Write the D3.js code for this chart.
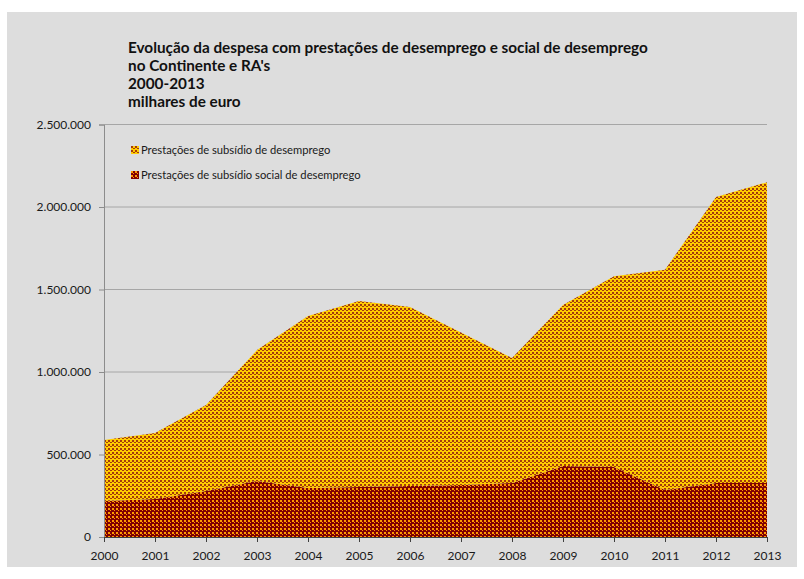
<!DOCTYPE html>
<html>
<head>
<meta charset="utf-8">
<script src="https://cdn.jsdelivr.net/npm/d3@7"></script>
<style>
  html, body { margin: 0; padding: 0; background: #ffffff; }
  svg { display: block; }
</style>
</head>
<body>
<svg id="chart" width="804" height="579"></svg>
<script>
// Anos
const years = [2000, 2001, 2002, 2003, 2004, 2005, 2006, 2007, 2008, 2009, 2010, 2011, 2012, 2013];
// Prestações de subsídio social de desemprego (milhares de euro)
const socialValues = [218000, 230000, 279000, 340000, 297000, 303000, 309000, 315000, 327000, 430000, 424000, 285000, 327000, 327000];
// Prestações de subsídio de desemprego (milhares de euro)
const subsidyValues = [370000, 400000, 521000, 793000, 1043000, 1127000, 1085000, 925000, 758000, 976000, 1156000, 1335000, 1733000, 1823000];
const yTicks = [0, 500000, 1000000, 1500000, 2000000, 2500000];
const titleLines = [
  "Evolução da despesa com prestações de desemprego e social de desemprego",
  "no Continente e RA's",
  "2000-2013",
  "milhares de euro"
];
const seriesNames = ["Prestações de subsídio de desemprego", "Prestações de subsídio social de desemprego"];

const svg = d3.select("#chart");
const plot = { left: 104, right: 767, top: 124.5, bottom: 537 };
const FONT = "Lato, 'Open Sans', sans-serif";

// fundo do gráfico
svg.append("rect").attr("x", 7).attr("y", 12).attr("width", 790).attr("height", 555).attr("fill", "#dddddd");

// padrões de preenchimento (xadrez)
const defs = svg.append("defs");
function checker(id, bg, fg, w2) {
  const p = defs.append("pattern").attr("id", id).attr("patternUnits", "userSpaceOnUse")
    .attr("width", 4).attr("height", 4);
  p.append("rect").attr("width", 4).attr("height", 4).attr("fill", bg);
  p.append("rect").attr("x", 0).attr("y", 0).attr("width", 2).attr("height", 2).attr("fill", fg);
  p.append("rect").attr("x", 2).attr("y", 2).attr("width", w2).attr("height", 1).attr("fill", fg);
}
checker("patSubsidy", "#ffcc00", "#a33a0c", 2);
checker("patSocial", "#800000", "#ff9900", 1);

const x = d3.scaleLinear().domain([years[0], years[years.length - 1]]).range([plot.left, plot.right]);
const y = d3.scaleLinear().domain([0, 2500000]).range([plot.bottom, plot.top]);

// linhas de grelha
svg.append("g").selectAll("line").data(yTicks.filter(d => d > 0)).join("line")
  .attr("x1", plot.left).attr("x2", plot.right)
  .attr("y1", d => y(d)).attr("y2", d => y(d))
  .attr("stroke", "#a6a6a6").attr("stroke-width", 1);

// áreas empilhadas
const data = years.map((yr, i) => ({ year: yr, social: socialValues[i], subsidy: subsidyValues[i] }));
const series = d3.stack().keys(["social", "subsidy"])(data);
const area = d3.area()
  .x(d => x(d.data.year))
  .y0(d => y(d[0]))
  .y1(d => y(d[1]));
const fills = { social: "url(#patSocial)", subsidy: "url(#patSubsidy)" };
svg.append("g").selectAll("path").data(series).join("path")
  .attr("d", area)
  .attr("fill", d => fills[d.key]);

// eixo vertical
const yAxis = d3.axisLeft(y).tickValues(yTicks).tickSize(5).tickPadding(8)
  .tickFormat(d => d3.format(",")(d).replace(/,/g, "."));
const gy = svg.append("g").attr("transform", `translate(${plot.left},0)`).call(yAxis);
gy.select(".domain").attr("stroke", "#8c8c8c");
gy.selectAll(".tick line").attr("stroke", "#8c8c8c");
gy.selectAll("text").attr("font-family", FONT).attr("font-size", 12).attr("fill", "#1a1a1a");

// eixo horizontal
const xAxis = d3.axisBottom(x).tickValues(years).tickSize(5).tickPadding(9).tickFormat(d3.format("d"));
const gx = svg.append("g").attr("transform", `translate(0,${plot.bottom})`).call(xAxis);
gx.select(".domain").attr("stroke", "#404040");
gx.selectAll(".tick line").attr("stroke", "#404040");
gx.selectAll("text").attr("font-family", FONT).attr("font-size", 12).attr("fill", "#1a1a1a");

// título
svg.append("g").selectAll("text").data(titleLines).join("text")
  .attr("x", 128).attr("y", (d, i) => 53 + i * 18)
  .attr("font-family", FONT).attr("font-weight", "bold")
  .attr("font-size", 15.3).attr("fill", "#111")
  .text(d => d);

// legenda
const legendFills = ["url(#patSubsidy)", "url(#patSocial)"];
const lg = svg.append("g").selectAll("g").data(seriesNames).join("g")
  .attr("transform", (d, i) => `translate(131,${146 + i * 25})`);
lg.append("rect").attr("width", 8).attr("height", 8).attr("fill", (d, i) => legendFills[i]);
lg.append("text").attr("x", 10).attr("y", 8)
  .attr("font-family", FONT).attr("font-size", 11.2).attr("fill", "#1a1a1a")
  .text(d => d);
</script>
</body>
</html>
